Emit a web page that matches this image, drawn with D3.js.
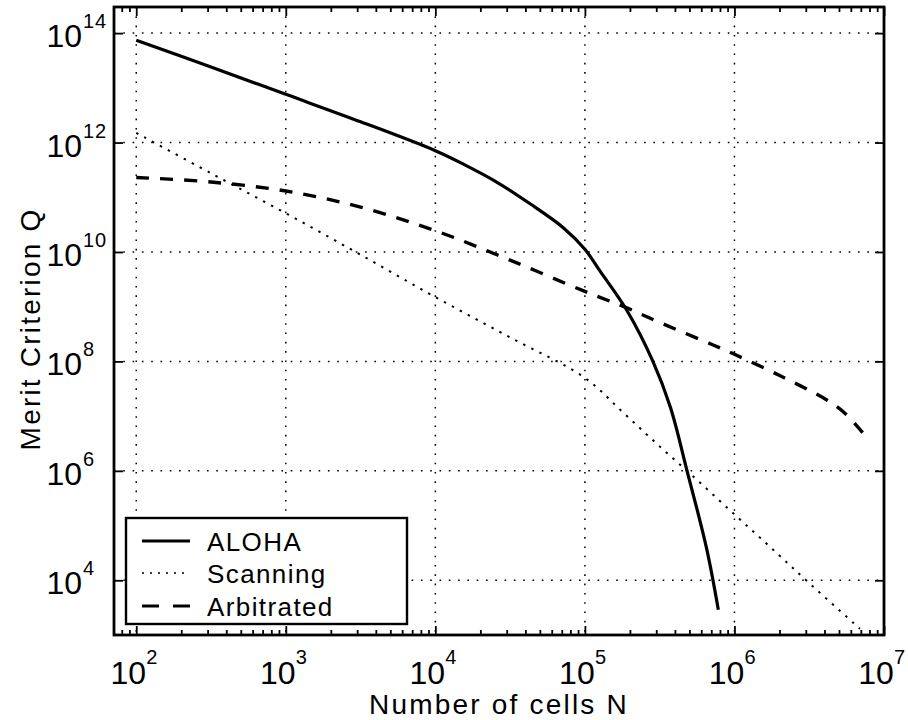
<!DOCTYPE html>
<html>
<head>
<meta charset="utf-8">
<script src="https://cdn.jsdelivr.net/npm/d3@7"></script>
<style>
  html, body { margin: 0; padding: 0; background: #fff; }
  svg { display: block; font-family: "Liberation Sans", Arial, Helvetica, sans-serif; }
</style>
</head>
<body>
<svg id="chart" width="908" height="720"></svg>
<script>
// ---- data ----
const alohaN = [100, 316, 1000, 3162, 1.0e4, 1.55e4, 2.57e4, 4.3e4, 7.2e4, 1.0e5, 1.26e5, 1.91e5, 2.85e5, 3.73e5, 4.82e5, 6.5e5, 7.8e5];
const alohaQ = [7.4e13, 2.4e13, 7.6e12, 2.4e12, 7.1e11, 4.0e11, 1.9e11, 7.6e10, 2.75e10, 1.12e10, 4.5e9, 8.5e8, 1.0e8, 1.45e7, 1.0e6, 3.9e4, 2.9e3];

const scanN = [100, 316, 1000, 3162, 1.0e4, 3.16e4, 1.0e5, 1.78e5, 3.16e5, 5.6e5, 1.0e6, 1.78e6, 3.16e6, 6.9e6];
const scanQ = [1.5e12, 2.75e11, 5.1e10, 8.9e9, 1.5e9, 2.75e8, 5.0e7, 1.2e7, 2.8e6, 6.9e5, 1.6e5, 3.8e4, 8.9e3, 1.3e3];

const arbN = [100, 316, 1000, 3162, 1.0e4, 3.16e4, 1.0e5, 1.86e5, 3.3e5, 7.2e5, 1.0e6, 2.04e6, 4.17e6, 5.5e6, 7.2e6];
const arbQ = [2.3e11, 1.9e11, 1.3e11, 6.6e10, 2.45e10, 7.1e9, 1.9e9, 9.8e8, 4.9e8, 2.0e8, 1.35e8, 5.4e7, 1.95e7, 1.12e7, 5.0e6];

const xTickExps = [2, 3, 4, 5, 6, 7];
const yTickExps = [4, 6, 8, 10, 12, 14];
const seriesNames = ["ALOHA", "Scanning", "Arbitrated"];
const xLabel = "Number of cells N";
const yLabel = "Merit Criterion Q";

// ---- layout ----
const L = 114, R = 884, T = 7, B = 635;
const svg = d3.select("#chart");

const x = d3.scaleLog().domain([71, 1e7]).range([L, R]);
const y = d3.scaleLog().domain([1e3, 3.0e14]).range([B, T]);

const xMajor = xTickExps.map(e => Math.pow(10, e));
const yMajor = yTickExps.map(e => Math.pow(10, e));
const xMinor = [];
for (let e = 1; e < 7; e++) for (let m = 2; m <= 9; m++) {
  const v = m * Math.pow(10, e);
  if (v >= 71 && v <= 1e7) xMinor.push(v);
}

// grid
const gridDash = "1.6,7.7";
svg.append("g").selectAll("line").data(xMajor.filter(v => v < 1e7)).join("line")
  .attr("x1", d => x(d)).attr("x2", d => x(d)).attr("y1", T).attr("y2", B)
  .attr("stroke", "#000").attr("stroke-width", 1.5).attr("stroke-dasharray", gridDash);
svg.append("g").selectAll("line").data(yMajor).join("line")
  .attr("x1", L).attr("x2", R).attr("y1", d => y(d)).attr("y2", d => y(d))
  .attr("stroke", "#000").attr("stroke-width", 1.5).attr("stroke-dasharray", gridDash);

// axes ticks (inward) via d3 axes
function styleAxis(g) {
  g.select(".domain").remove();
  g.selectAll("line").attr("stroke", "#000").attr("stroke-width", 1.8);
  g.selectAll("text").remove();
}
svg.append("g").attr("transform", `translate(0,${B})`)
  .call(d3.axisBottom(x).tickValues(xMajor).tickSize(-9).tickFormat("")).call(styleAxis);
svg.append("g").attr("transform", `translate(0,${B})`)
  .call(d3.axisBottom(x).tickValues(xMinor).tickSize(-5).tickFormat("")).call(styleAxis);
svg.append("g").attr("transform", `translate(0,${T})`)
  .call(d3.axisTop(x).tickValues(xMajor).tickSize(-9).tickFormat("")).call(styleAxis);
svg.append("g").attr("transform", `translate(0,${T})`)
  .call(d3.axisTop(x).tickValues(xMinor).tickSize(-5).tickFormat("")).call(styleAxis);
svg.append("g").attr("transform", `translate(${L},0)`)
  .call(d3.axisLeft(y).tickValues(yMajor).tickSize(-9).tickFormat("")).call(styleAxis);
svg.append("g").attr("transform", `translate(${R},0)`)
  .call(d3.axisRight(y).tickValues(yMajor).tickSize(-9).tickFormat("")).call(styleAxis);

// tick labels
const xl = svg.append("g");
xTickExps.forEach(e => {
  const cx = x(Math.pow(10, e)) - 3;
  xl.append("text").attr("x", cx - 5).attr("y", 684).attr("text-anchor", "middle")
    .attr("font-size", 32).text("10");
  xl.append("text").attr("x", cx + 13).attr("y", 664).attr("text-anchor", "start")
    .attr("font-size", 20).text(e);
});
const yl = svg.append("g");
yTickExps.forEach(e => {
  const cy = y(Math.pow(10, e));
  yl.append("text").attr("x", 82).attr("y", cy + 14).attr("text-anchor", "end")
    .attr("font-size", 32).text("10");
  yl.append("text").attr("x", 83).attr("y", cy - 5).attr("text-anchor", "start")
    .attr("font-size", 20).attr("letter-spacing", 1).text(e);
});

// axis labels
svg.append("text").attr("x", (L + R) / 2).attr("y", 714).attr("text-anchor", "middle")
  .attr("font-size", 28).attr("letter-spacing", 2.2).text(xLabel);
svg.append("text").attr("transform", `translate(40,${(T + B) / 2 + 8}) rotate(-90)`)
  .attr("text-anchor", "middle").attr("font-size", 28).attr("letter-spacing", 2.2).text(yLabel);

// curves
const line = d3.line().x(d => x(d[0])).y(d => y(d[1])).curve(d3.curveCatmullRom.alpha(0.5));
const zip = (a, b) => a.map((v, i) => [v, b[i]]);
const styles = [
  { w: 3.2, dash: null },
  { w: 2, dash: "2.4,6.6" },
  { w: 3.4, dash: "13,11" }
];
const sets = [zip(alohaN, alohaQ), zip(scanN, scanQ), zip(arbN, arbQ)];
sets.forEach((s, i) => {
  svg.append("path").datum(s).attr("d", line).attr("fill", "none")
    .attr("stroke", "#000").attr("stroke-width", styles[i].w)
    .attr("stroke-dasharray", styles[i].dash);
});

// frame
svg.append("rect").attr("x", L).attr("y", T).attr("width", R - L).attr("height", B - T)
  .attr("fill", "none").attr("stroke", "#000").attr("stroke-width", 2.8);

// legend
const lg = svg.append("g");
lg.append("rect").attr("x", 126).attr("y", 518).attr("width", 281).attr("height", 106)
  .attr("fill", "#fff").attr("stroke", "#000").attr("stroke-width", 2.4);
const legDash = [null, "2,6", "17,14"];
const legY = [541, 573, 606];
seriesNames.forEach((n, i) => {
  lg.append("line").attr("x1", 142).attr("x2", 190).attr("y1", legY[i]).attr("y2", legY[i])
    .attr("stroke", "#000").attr("stroke-width", i === 1 ? 1.6 : 3)
    .attr("stroke-dasharray", legDash[i]);
  lg.append("text").attr("x", 207).attr("y", legY[i] + 9.5).attr("font-size", 26)
    .attr("letter-spacing", 1.4).text(n);
});
</script>
</body>
</html>
